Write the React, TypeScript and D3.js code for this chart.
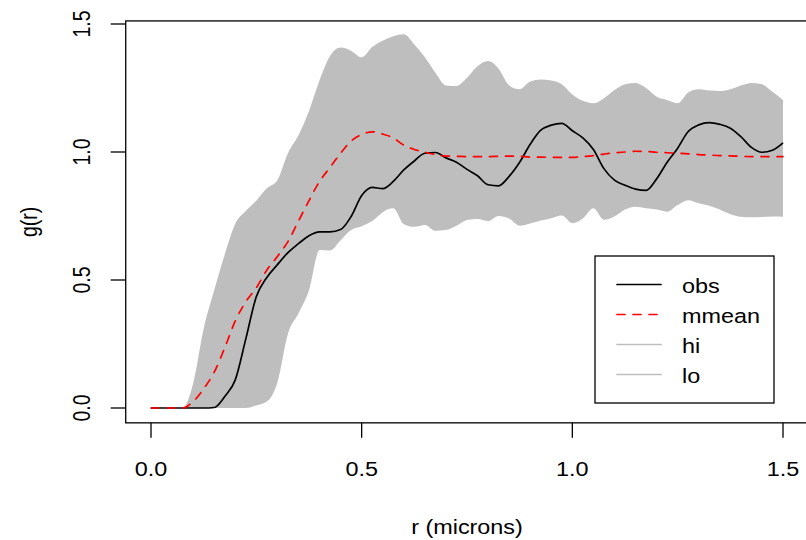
import React, { useEffect, useRef } from 'react';
import * as d3 from 'd3';

// r grid (microns), shared by every series
const rValues = [
  0, 0.025, 0.05, 0.075, 0.1, 0.125, 0.15, 0.175, 0.2, 0.225,
  0.25, 0.275, 0.3, 0.325, 0.35, 0.375, 0.4, 0.425, 0.45, 0.475,
  0.5, 0.525, 0.55, 0.575, 0.6, 0.625, 0.65, 0.675, 0.7, 0.725,
  0.75, 0.775, 0.8, 0.825, 0.85, 0.875, 0.9, 0.925, 0.95, 0.975,
  1.0, 1.025, 1.05, 1.075, 1.1, 1.125, 1.15, 1.175, 1.2, 1.225,
  1.25, 1.275, 1.3, 1.325, 1.35, 1.375, 1.4, 1.425, 1.45, 1.475, 1.5,
];

const obsValues = [
  0, 0, 0, 0, 0, 0, 0.002, 0.045, 0.11, 0.27,
  0.435, 0.51, 0.56, 0.607, 0.642, 0.673, 0.688, 0.688, 0.697, 0.748,
  0.83, 0.862, 0.857, 0.885, 0.93, 0.965, 0.995, 0.998, 0.977, 0.96,
  0.932, 0.907, 0.872, 0.868, 0.905, 0.96, 1.03, 1.085, 1.105, 1.112,
  1.083, 1.055, 1.01, 0.935, 0.89, 0.87, 0.855, 0.85, 0.895, 0.96,
  1.015, 1.08, 1.106, 1.115, 1.108, 1.093, 1.06, 1.018, 0.999, 1.007, 1.036,
];

const mmeanValues = [
  0, 0, 0, 0, 0.025, 0.075, 0.14, 0.235, 0.34, 0.415,
  0.47, 0.539, 0.592, 0.65, 0.73, 0.81, 0.885, 0.94, 0.995, 1.043,
  1.068, 1.079, 1.07, 1.055, 1.027, 1.01, 0.999, 0.99, 0.984, 0.983,
  0.982, 0.982, 0.982, 0.983, 0.984, 0.983, 0.98, 0.98, 0.979, 0.979,
  0.979, 0.982, 0.986, 0.992, 0.997, 1.0, 1.003, 1.002, 0.999, 0.997,
  0.995, 0.993, 0.99, 0.988, 0.986, 0.985, 0.983, 0.982, 0.982, 0.982, 0.982,
];

const hiValues = [
  0, 0, 0, 0, 0.096, 0.31, 0.46, 0.6, 0.72, 0.77,
  0.81, 0.858, 0.89, 0.995, 1.065, 1.16, 1.28, 1.375, 1.408, 1.395,
  1.37, 1.41, 1.435, 1.452, 1.46, 1.42, 1.37, 1.31, 1.26, 1.258,
  1.29, 1.335, 1.355, 1.325, 1.26, 1.245, 1.275, 1.283, 1.279, 1.265,
  1.225, 1.2, 1.19, 1.21, 1.242, 1.265, 1.27, 1.25, 1.216, 1.203,
  1.19, 1.232, 1.245, 1.24, 1.238, 1.245, 1.26, 1.27, 1.265, 1.235, 1.203,
];

const loValues = [
  0, 0, 0, 0, 0, 0, 0, 0, 0, 0,
  0.01, 0.025, 0.1, 0.29, 0.37, 0.46, 0.617, 0.615, 0.655, 0.695,
  0.71, 0.73, 0.765, 0.78, 0.718, 0.708, 0.715, 0.692, 0.695, 0.712,
  0.734, 0.738, 0.73, 0.75, 0.74, 0.712, 0.721, 0.732, 0.741, 0.752,
  0.722, 0.74, 0.78, 0.735, 0.748, 0.775, 0.786, 0.78, 0.775, 0.767,
  0.793, 0.812, 0.8, 0.79, 0.775, 0.757, 0.747, 0.745, 0.746, 0.748, 0.747,
];

const xTicks = [0, 0.5, 1.0, 1.5];
const yTicks = [0, 0.5, 1.0, 1.5];
const legendLabels = ['obs', 'mmean', 'hi', 'lo'];

const FONT = '"Liberation Sans", Arial, Helvetica, sans-serif';
const FS = '19.5px';
const SX = 1.2; // the picture is stretched sideways, text too
const BAND = '#bebebe';

export default function App() {
  const svgRef = useRef<SVGSVGElement>(null);

  useEffect(() => {
    document.body.style.margin = '0';
    const svg = d3.select(svgRef.current);
    svg.selectAll('*').remove();

    const x = d3.scaleLinear().domain([0, 1.5]).range([151, 783]);
    const y = d3.scaleLinear().domain([0, 1.5]).range([408, 24]);

    const left = x(-0.06), right = x(1.56);
    const top = y(1.512), bottom = y(-0.058);

    const pts = rValues.map((r, i) => ({
      r, obs: obsValues[i], mmean: mmeanValues[i], hi: hiValues[i], lo: loValues[i],
    }));

    const label = (parent: any, tx: number, ty: number, txt: string, rot = false, anchor = 'middle') =>
      parent.append('text')
        .attr('transform', `translate(${tx}, ${ty}) scale(${SX}, 1)${rot ? ' rotate(-90)' : ''}`)
        .attr('text-anchor', anchor)
        .style('font-family', FONT).style('font-size', FS)
        .text(txt);

    svg.append('defs').append('clipPath').attr('id', 'plotclip')
      .append('rect').attr('x', left).attr('y', top)
      .attr('width', right - left).attr('height', bottom - top);

    const g = svg.append('g').attr('clip-path', 'url(#plotclip)');

    const band = d3.area<any>()
      .x(d => x(d.r))
      .y0(d => y(d.lo))
      .y1(d => y(d.hi))
      .curve(d3.curveMonotoneX);
    g.append('path').attr('d', band(pts)).attr('fill', BAND);

    const line = (key: string) => d3.line<any>()
      .x(d => x(d.r))
      .y(d => y(d[key]))
      .curve(d3.curveMonotoneX)(pts);

    g.append('path').attr('d', line('obs'))
      .attr('fill', 'none').attr('stroke', 'black').attr('stroke-width', 1.7)
      .attr('stroke-linejoin', 'round');
    g.append('path').attr('d', line('mmean'))
      .attr('fill', 'none').attr('stroke', 'red').attr('stroke-width', 1.7)
      .attr('stroke-dasharray', '8,8').attr('stroke-linecap', 'round');

    // frame
    svg.append('rect').attr('x', left).attr('y', top)
      .attr('width', right - left).attr('height', bottom - top)
      .attr('fill', 'none').attr('stroke', 'black').attr('stroke-width', 1.3);

    // x axis
    const xa = svg.append('g');
    xTicks.forEach(t => {
      xa.append('line').attr('x1', x(t)).attr('x2', x(t)).attr('y1', bottom).attr('y2', bottom + 15)
        .attr('stroke', 'black').attr('stroke-width', 1.3);
      label(xa, x(t), 476, d3.format('.1f')(t));
    });
    label(svg, (left + right) / 2, 534, 'r (microns)');

    // y axis
    const ya = svg.append('g');
    yTicks.forEach(t => {
      ya.append('line').attr('x1', left - 15).attr('x2', left).attr('y1', y(t)).attr('y2', y(t))
        .attr('stroke', 'black').attr('stroke-width', 1.3);
      label(ya, 90, y(t), d3.format('.1f')(t), true);
    });
    label(svg, 37, (top + bottom) / 2, 'g(r)', true);

    // legend
    const lg = svg.append('g');
    lg.append('rect').attr('x', 595).attr('y', 256).attr('width', 179).attr('height', 147)
      .attr('fill', 'white').attr('stroke', 'black').attr('stroke-width', 1.3);
    const styles = [
      { stroke: 'black', dash: null },
      { stroke: 'red', dash: '8,8' },
      { stroke: BAND, dash: null },
      { stroke: BAND, dash: null },
    ];
    legendLabels.forEach((lab, i) => {
      const ly = 284.5 + i * 30;
      const s = styles[i];
      const ln = lg.append('line').attr('x1', 617).attr('x2', 661).attr('y1', ly).attr('y2', ly)
        .attr('stroke', s.stroke).attr('stroke-width', 1.7).attr('stroke-linecap', 'round');
      if (s.dash) ln.attr('stroke-dasharray', s.dash);
      label(lg, 682, ly + 8, lab, false, 'start');
    });
  }, []);

  return <svg ref={svgRef} width={806} height={540} style={{ display: 'block' }} />;
}
